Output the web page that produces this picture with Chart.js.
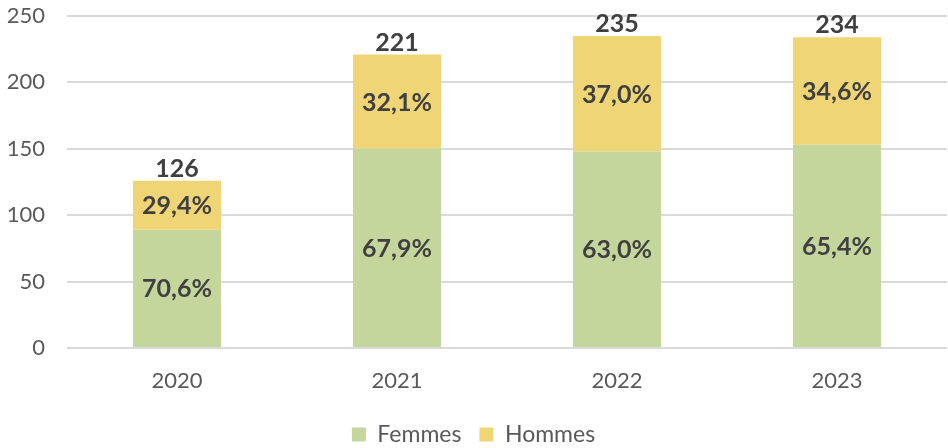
<!DOCTYPE html>
<html lang="fr">
<head>
    <meta charset="UTF-8">
    <title>Femmes / Hommes</title>
    <script src="https://cdn.jsdelivr.net/npm/chart.js@4"></script>
    <style>
        body { margin: 0; background: #fff; }
        #wrap { width: 948px; height: 448px; }
    </style>
</head>
<body>
    <div id="wrap"><canvas id="chart"></canvas></div>

    <script>
        // data
        const years = ['2020', '2021', '2022', '2023'];
        const femmes = [89, 150, 148, 153];
        const hommes = [37, 71, 87, 81];
        const femmesPct = ['70,6%', '67,9%', '63,0%', '65,4%'];
        const hommesPct = ['29,4%', '32,1%', '37,0%', '34,6%'];
        const totals = ['126', '221', '235', '234'];

        const FONT = 'Lato, "Open Sans", sans-serif';

        // draws the percentages inside each segment and the total on top
        const labelsPlugin = {
            id: 'barLabels',
            afterDatasetsDraw(chart) {
                const ctx = chart.ctx;
                ctx.save();
                ctx.font = 'bold 25px ' + FONT;
                ctx.fillStyle = '#404040';
                ctx.textAlign = 'center';
                ctx.textBaseline = 'middle';
                const pcts = [femmesPct, hommesPct];
                chart.data.datasets.forEach((ds, i) => {
                    chart.getDatasetMeta(i).data.forEach((bar, j) => {
                        const mid = (bar.y + bar.base) / 2;
                        ctx.fillText(pcts[i][j], bar.x, mid + 1);
                    });
                });
                const top = chart.getDatasetMeta(1).data;
                ctx.textBaseline = 'alphabetic';
                top.forEach((bar, j) => {
                    ctx.fillText(totals[j], bar.x, bar.y - 4);
                });
                ctx.restore();
            }
        };

        new Chart(document.getElementById('chart'), {
            type: 'bar',
            data: {
                labels: years,
                datasets: [
                    { label: 'Femmes', data: femmes, backgroundColor: '#C4D69C' },
                    { label: 'Hommes', data: hommes, backgroundColor: '#EFD575' }
                ]
            },
            options: {
                responsive: true,
                maintainAspectRatio: false,
                animation: false,
                layout: { padding: { top: 16, right: 1, bottom: -8, left: 0 } },
                datasets: { bar: { barPercentage: 0.4, categoryPercentage: 1 } },
                scales: {
                    x: {
                        stacked: true,
                        grid: { display: false },
                        border: { display: false },
                        ticks: { color: '#595959', font: { family: FONT, size: 22 }, padding: 12 },
                        afterFit(scale) {
                            scale.height = 57;
                            scale.paddingLeft = 0;
                            scale.paddingRight = 0;
                        }
                    },
                    y: {
                        stacked: true,
                        min: 0,
                        max: 250,
                        ticks: { stepSize: 50, color: '#595959', font: { family: FONT, size: 22 }, padding: 22 },
                        grid: { color: '#D9D9D9', lineWidth: 2, drawTicks: false },
                        border: { display: false },
                        afterFit(scale) {
                            scale.width = 67;
                            scale.paddingTop = 0;
                            scale.paddingBottom = 0;
                        }
                    }
                },
                plugins: {
                    legend: {
                        position: 'bottom',
                        labels: {
                            color: '#595959',
                            font: { family: FONT, size: 23 },
                            boxWidth: 14,
                            boxHeight: 14,
                            padding: 18
                        }
                    },
                    tooltip: { enabled: false }
                }
            },
            plugins: [labelsPlugin]
        });
    </script>
</body>
</html>
